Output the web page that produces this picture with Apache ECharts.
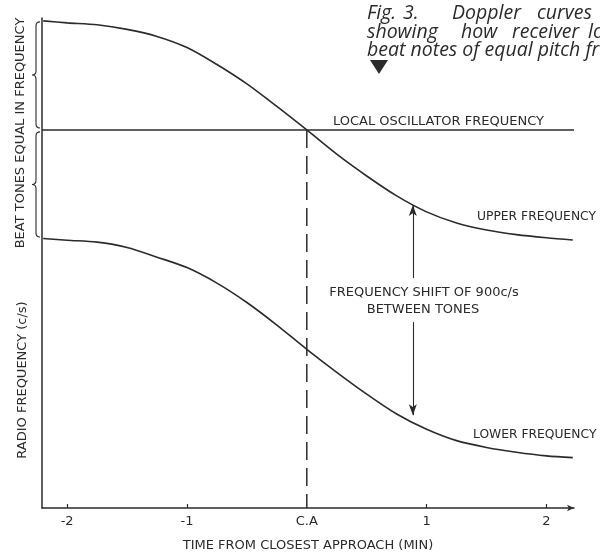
<!DOCTYPE html>
<html>
<head>
<meta charset="utf-8">
<script src="https://cdn.jsdelivr.net/npm/echarts@6/dist/echarts.min.js"></script>
<style>html,body{margin:0;padding:0;background:#fff;}#c{width:600px;height:554px;}</style>
</head>
<body>
<div id="c"></div>
<script>
// ---- data (time in minutes from closest approach, frequency in c/s relative to local oscillator) ----
const timeMin = -2.21, timeMax = 2.23;
const times      = [-2.2, -2, -1.75, -1.5, -1.25, -1, -0.75, -0.5, -0.25, 0, 0.25, 0.5, 0.75, 1, 1.25, 1.5, 1.75, 2, 2.22];
const upperFreq  = [450, 442, 434, 415, 386, 340, 270, 190, 97, 0, -100, -190, -272, -338, -384, -413, -432, -445, -454];
const lowerFreq  = [-448, -455, -463, -485, -525, -568, -632, -712, -805, -905, -1000, -1090, -1172, -1235, -1282, -1310, -1330, -1345, -1352];
const localOscFreq = 0;
const tickValues = [-2, -1, 0, 1, 2];
const tickLabels = ['-2', '-1', 'C.A', '1', '2'];
const braceSpans = [[446, 8], [-8, -442]];
const shiftTime = 0.885;
const shiftArrowTop = [-310, -611];
const shiftArrowBottom = [-1177, -793];
const freqMin = -1560, freqMax = 462;

const ink = '#2b2b2b';
const labelFont = '"DejaVu Sans", sans-serif';
const capFont = '"Open Sans", Lato, sans-serif';
const fs = 13;

const chart = echarts.init(document.getElementById('c'), null, {renderer: 'canvas'});
const lineStyle = {color: ink, width: 1.6};

function capWord(text, x, y) {
  return {type: 'text', x: x, y: y, style: {text: text, fontFamily: capFont, fontStyle: 'italic', fontSize: 19.5, fill: ink, verticalAlign: 'middle'}};
}
function label(text, x, y, align, rot, size) {
  return {type: 'text', x: x, y: y, rotation: rot || 0,
    style: {text: text, fontFamily: labelFont, fontSize: size || fs, fill: ink, align: align || 'left', verticalAlign: 'middle'}};
}

chart.setOption({
  animation: false,
  backgroundColor: '#ffffff',
  grid: {left: 42, right: 26, top: 18, bottom: 46, containLabel: false, outerBoundsMode: 'none'},
  xAxis: {
    type: 'value', min: timeMin, max: timeMax,
    name: 'TIME FROM CLOSEST APPROACH (MIN)', nameLocation: 'middle', nameGap: 31,
    nameTextStyle: {fontFamily: labelFont, fontSize: fs, color: ink},
    axisLine: {onZero: false, symbol: ['none', 'arrow'], symbolSize: [5, 7], lineStyle: {color: ink, width: 1.5}},
    axisTick: {show: true, inside: true, length: 4, customValues: [-2, -1, 1, 2], lineStyle: {color: ink, width: 1.2}},
    axisLabel: {customValues: tickValues, margin: 7, fontFamily: labelFont, fontSize: fs, color: ink,
      formatter: v => { const i = tickValues.indexOf(v); return i >= 0 ? tickLabels[i] : ''; }},
    splitLine: {show: false}
  },
  yAxis: {
    type: 'value', min: freqMin, max: freqMax,
    axisLine: {show: true, onZero: false, lineStyle: {color: ink, width: 1.5}},
    axisTick: {show: false}, axisLabel: {show: false}, splitLine: {show: false}
  },
  series: [
    {type: 'line', name: 'Upper frequency', data: times.map((t, i) => [t, upperFreq[i]]),
      smooth: 0.3, showSymbol: false, lineStyle: lineStyle},
    {type: 'line', name: 'Lower frequency', data: times.map((t, i) => [t, lowerFreq[i]]),
      smooth: 0.3, showSymbol: false, lineStyle: lineStyle,
      markLine: {
        silent: true, symbol: ['arrow', 'none'], symbolSize: [6, 11],
        label: {show: false},
        lineStyle: {color: ink, width: 1.1, type: 'solid'},
        data: [
          [{coord: [shiftTime, shiftArrowTop[0]]}, {coord: [shiftTime, shiftArrowTop[1]]}],
          [{coord: [shiftTime, shiftArrowBottom[0]]}, {coord: [shiftTime, shiftArrowBottom[1]]}]
        ]
      }},
    {type: 'line', name: 'Local oscillator', data: [[timeMin, localOscFreq], [timeMax, localOscFreq]],
      showSymbol: false, lineStyle: {color: ink, width: 1.5}},
    {type: 'line', name: 'Closest approach', data: [[0, localOscFreq], [0, freqMin]],
      showSymbol: false, lineStyle: {color: ink, width: 1.5, type: [18, 8]}},
    {type: 'custom', name: 'Braces', coordinateSystem: 'cartesian2d', clip: false,
      data: braceSpans.map(s => [timeMin, s[0], s[1]]),
      encode: {x: 0, y: [1, 2]},
      renderItem: function (params, api) {
        const a = api.coord([api.value(0), api.value(1)]);
        const b = api.coord([api.value(0), api.value(2)]);
        const xr = a[0] - 2, xm = xr - 4, tip = xr - 8, r = 4;
        const y0 = a[1], y1 = b[1], ym = (y0 + y1) / 2;
        const d = `M${xr} ${y0} Q${xm} ${y0} ${xm} ${y0 + r} L${xm} ${ym - r} Q${xm} ${ym} ${tip} ${ym} ` +
                  `Q${xm} ${ym} ${xm} ${ym + r} L${xm} ${y1 - r} Q${xm} ${y1} ${xr} ${y1}`;
        return {type: 'path', shape: {pathData: d}, style: {fill: 'none', stroke: ink, lineWidth: 1.1}};
      }}
  ],
  graphic: [
    capWord('Fig.', 367, 13), capWord('3.', 403, 13), capWord('Doppler', 452, 13), capWord('curves', 537, 13), capWord('for', 603, 13),
    capWord('showing', 367, 32), capWord('how', 461, 32), capWord('receiver', 512, 32), capWord('local', 588, 32),
    capWord('beat notes of equal pitch from', 367, 50),
    {type: 'polygon', shape: {points: [[370, 60], [388, 60], [379, 74]]}, style: {fill: ink}},
    label('LOCAL OSCILLATOR FREQUENCY', 333, 122),
    label('UPPER FREQUENCY', 477, 217, 'left', 0, 12.3),
    label('LOWER FREQUENCY', 473, 435, 'left', 0, 12.3),
    label('FREQUENCY SHIFT OF 900c/s', 424, 293, 'center'),
    label('BETWEEN TONES', 423, 310, 'center'),
    label('BEAT TONES EQUAL IN FREQUENCY', 21, 133, 'center', Math.PI / 2),
    label('RADIO FREQUENCY (c/s)', 23, 380, 'center', Math.PI / 2)
  ]
});
</script>
</body>
</html>
